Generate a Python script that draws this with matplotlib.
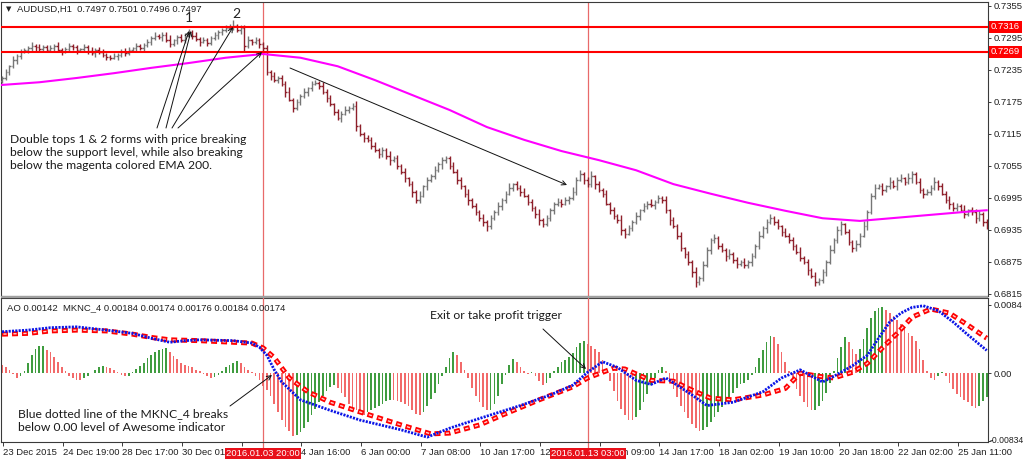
import numpy as np
import matplotlib
matplotlib.use("Agg")
import matplotlib.pyplot as plt
import matplotlib.transforms as mtransforms
from matplotlib.collections import LineCollection

plt.rcParams['lines.scale_dashes'] = False
plt.rcParams['font.family'] = ['Liberation Sans', 'DejaVu Sans']

# ---------------- data ----------------
symbol_header = "AUDUSD,H1  0.7497 0.7501 0.7496 0.7497"
ind_header = "AO 0.00142  MKNC_4 0.00184 0.00174 0.00176 0.00184 0.00174"

first_open_pips = 7214
close_pips = [
    7220, 7231, 7242, 7254, 7261, 7269, 7273, 7276, 7280, 7278,
    7274, 7278, 7273, 7276, 7280, 7273, 7269, 7274, 7280, 7278,
    7273, 7274, 7278, 7271, 7267, 7273, 7269, 7263, 7259, 7258,
    7261, 7263, 7269, 7267, 7273, 7276, 7280, 7276, 7282, 7288,
    7295, 7299, 7297, 7301, 7291, 7284, 7291, 7297, 7291, 7299,
    7306, 7299, 7293, 7288, 7291, 7286, 7295, 7301, 7306, 7310,
    7314, 7316, 7318, 7310, 7314, 7280, 7291, 7288, 7291, 7284,
    7276, 7231, 7224, 7216, 7220, 7209, 7194, 7179, 7164, 7175,
    7186, 7194, 7201, 7209, 7211, 7205, 7194, 7182, 7171, 7156,
    7145, 7153, 7160, 7164, 7168, 7130, 7115, 7107, 7104, 7092,
    7085, 7077, 7085, 7074, 7066, 7070, 7055, 7044, 7032, 7021,
    7006, 6991, 6999, 7017, 7029, 7036, 7047, 7059, 7066, 7070,
    7055, 7044, 7029, 7017, 7003, 6991, 6980, 6969, 6957, 6950,
    6942, 6957, 6969, 6980, 6991, 7003, 7014, 7021, 7014, 7006,
    6999, 6988, 6976, 6965, 6954, 6946, 6957, 6972, 6984, 6988,
    6984, 6991, 6995, 7006, 7029, 7040, 7029, 7021, 7036, 7021,
    7010, 7003, 6984, 6972, 6961, 6954, 6935, 6928, 6939, 6950,
    6961, 6972, 6980, 6984, 6982, 6988, 6995, 6991, 6972, 6954,
    6942, 6924, 6901, 6890, 6875, 6856, 6837, 6845, 6869, 6897,
    6916, 6920, 6905, 6897, 6886, 6890, 6879, 6871, 6875, 6869,
    6875, 6886, 6905, 6924, 6939, 6950, 6957, 6950, 6942, 6931,
    6924, 6916, 6905, 6894, 6882, 6875, 6860, 6849, 6837, 6841,
    6856, 6875, 6897, 6916, 6935, 6946, 6931, 6912, 6901, 6909,
    6924, 6942, 6969, 6999, 7014, 7017, 7010, 7017, 7025, 7017,
    7029, 7032, 7025, 7032, 7040, 7025, 7010, 7003, 7006, 7014,
    7025, 7017, 7003, 6991, 6984, 6976, 6980, 6972, 6965, 6972,
    6969, 6957, 6965, 6950, 6942]

wick_unit = 0.00015
wick_up = [
    3, 4, 2, 5, 3, 4, 2, 3, 5, 2, 4, 3, 2, 4, 3, 5, 2, 3, 4, 2,
    3, 2, 4, 3, 5, 2, 3, 4, 2, 3, 4, 2, 3, 5, 3, 2, 4, 3, 2, 4,
    3, 5, 2, 4, 3, 6, 2, 3, 4, 3, 4, 3, 5, 2, 4, 3, 2, 4, 3, 3,
    4, 3, 7, 2, 4, 3, 5, 2, 4, 3, 2, 4, 3, 5, 2, 4, 3, 6, 2, 4,
    3, 5, 2, 4, 3, 2, 5, 3, 4, 2, 4, 3, 5, 2, 4, 6, 3, 2, 4, 3,
    5, 2, 4, 3, 6, 2, 4, 3, 5, 2, 4, 3, 6, 2, 4, 3, 5, 2, 4, 3,
    2, 5, 3, 4, 2, 6, 3, 4, 2, 5, 3, 4, 2, 5, 3, 4, 6, 2, 4, 3,
    5, 2, 4, 3, 6, 2, 4, 3, 2, 5, 3, 4, 2, 6, 4, 5, 3, 4, 6, 2,
    4, 3, 5, 2, 4, 3, 6, 2, 4, 3, 5, 2, 4, 3, 6, 2, 4, 3, 5, 2,
    4, 3, 5, 2, 4, 3, 6, 2, 5, 4, 3, 5, 2, 4, 3, 6, 2, 4, 3, 5,
    2, 4, 3, 6, 2, 4, 5, 3, 4, 2, 5, 3, 4, 2, 6, 3, 4, 2, 5, 3,
    4, 2, 6, 3, 5, 4, 2, 4, 3, 5, 3, 6, 2, 4, 5, 3, 4, 2, 6, 3,
    4, 5, 2, 6, 4, 3, 5, 2, 4, 3, 6, 2, 4, 3, 5, 2, 4, 3, 6, 2,
    4, 3, 5, 2, 4]
wick_dn = [
    2, 3, 4, 2, 5, 3, 2, 4, 3, 5, 2, 4, 3, 2, 5, 3, 4, 2, 3, 4,
    5, 2, 3, 4, 2, 5, 3, 2, 4, 3, 2, 5, 3, 4, 2, 3, 5, 2, 4, 3,
    4, 2, 3, 5, 2, 4, 3, 5, 2, 3, 2, 4, 3, 5, 2, 4, 3, 2, 5, 3,
    3, 2, 4, 3, 5, 8, 2, 4, 3, 5, 6, 3, 5, 2, 4, 3, 6, 2, 5, 3,
    4, 2, 5, 3, 2, 4, 3, 5, 2, 4, 3, 5, 2, 4, 3, 6, 2, 5, 3, 4,
    2, 5, 3, 4, 6, 2, 4, 3, 5, 2, 6, 3, 4, 2, 5, 3, 4, 2, 6, 3,
    4, 2, 5, 3, 4, 6, 2, 4, 3, 5, 6, 3, 2, 4, 5, 3, 2, 4, 3, 5,
    2, 4, 3, 5, 6, 3, 2, 4, 5, 3, 4, 2, 5, 3, 4, 2, 5, 3, 4, 6,
    3, 4, 2, 5, 3, 4, 6, 5, 2, 4, 3, 5, 2, 4, 3, 5, 2, 4, 3, 6,
    2, 4, 3, 5, 4, 6, 6, 3, 4, 2, 5, 3, 4, 2, 6, 3, 4, 5, 2, 4,
    3, 5, 2, 4, 3, 6, 2, 4, 3, 5, 2, 4, 5, 3, 4, 2, 6, 3, 5, 4,
    3, 5, 2, 4, 3, 6, 2, 4, 5, 3, 4, 2, 5, 3, 4, 2, 6, 3, 4, 2,
    5, 3, 4, 2, 6, 3, 4, 5, 2, 4, 3, 5, 2, 4, 6, 3, 4, 2, 5, 3,
    4, 6, 3, 5, 4]

ema_idx = [0, 10, 20, 30, 40, 50, 60, 70, 80, 90, 100, 110, 120, 130,
           140, 150, 160, 170, 180, 190, 200, 210, 220, 230, 240, 250, 260, 264]
ema_pips = [7207, 7212, 7220, 7229, 7239, 7248, 7258, 7265, 7258, 7242, 7216,
            7188, 7160, 7128, 7104, 7083, 7066, 7047, 7021, 7003, 6986, 6971,
            6957, 6952, 6958, 6964, 6970, 6972]

resistance = 0.7316
support = 0.7269

ao_e4 = [
    10, 7, 4, -1, -6, -3, 2, 12, 22, 30,
    33, 34, 29, 26, 20, 14, 8, 2, -3, -6,
    -8, -9, -6, -4, 0, 4, 7, 9, 8, 6,
    4, 1, -2, -4, -3, 1, 5, 9, 13, 18,
    22, 26, 29, 30, 31, 26, 21, 17, 12, 10,
    9, 7, 4, 2, -1, -3, -6, -5, -2, 3,
    7, 10, 13, 15, 12, 8, 4, 1, -4, -9,
    -16, -21, -28, -38, -48, -58, -66, -72, -77, -76,
    -73, -68, -60, -52, -44, -36, -28, -22, -17, -15,
    -18, -24, -30, -38, -44, -46, -50, -52, -48, -46,
    -43, -40, -38, -35, -33, -33, -34, -36, -38, -41,
    -45, -50, -52, -48, -40, -32, -24, -14, -4, 8,
    18, 26, 22, 14, 4, -6, -18, -28, -36, -42,
    -46, -45, -38, -28, -14, -2, 10, 17, 14, 8,
    2, -1, 1, -3, -10, -15, -12, -6, 2, 8,
    14, 16, 20, 25, 32, 37, 39, 36, 34, 30,
    26, 16, 4, -10, -22, -34, -44, -52, -58, -58,
    -54, -46, -36, -26, -15, -6, 4, 7, 3, -8,
    -20, -30, -40, -48, -56, -63, -68, -71, -70, -66,
    -60, -54, -48, -42, -36, -30, -24, -18, -14, -12,
    -8, -2, 8, 18, 28, 38, 46, 44, 36, 26,
    14, 2, -10, -20, -28, -36, -42, -46, -45, -40,
    -34, -24, -12, 2, 18, 32, 44, 38, 30, 24,
    30, 42, 56, 68, 76, 80, 81, 78, 74, 70,
    66, 60, 55, 50, 46, 40, 30, 16, 2, -6,
    -8, -3, 1, -4, -12, -20, -26, -30, -33, -36,
    -40, -43, -40, -34, -30]

blue_idx = [0, 7, 13, 20, 28, 35, 40, 45, 49, 53, 62, 67, 69, 71, 73, 75, 80, 88,
            96, 107, 114, 120, 128, 139, 147, 153, 157, 161, 165, 170, 174, 178,
            185, 189, 196, 204, 209, 214, 220, 223, 228, 232, 235, 238, 241, 244,
            247, 251, 255, 259, 264]
blue_e4 = [51, 53, 56, 57, 53, 49, 43, 38, 40, 41, 40, 37, 32, 22, 4, -11, -33, -46,
           -58, -70, -79, -68, -56, -40, -27, -15, 1, 14, 7, -9, -14, -6,
           -27, -40, -36, -23, -6, 4, -11, -4, 9, 22, 43, 63, 74, 81,
           83, 77, 63, 47, 28]
red_idx = [0, 7, 13, 20, 28, 35, 40, 45, 53, 62, 67, 70, 73, 77, 82, 88, 96, 107,
           115, 120, 128, 134, 144, 153, 157, 161, 164, 167, 170, 174, 180, 185,
           190, 196, 204, 210, 214, 219, 223, 228, 232, 236, 240, 244, 249, 254,
           259, 264]
red_e4 = [48, 49, 52, 53, 52, 48, 44, 41, 40, 38, 37, 31, 19, -6, -23, -36, -48, -64,
          -75, -74, -64, -52, -33, -17, -6, 1, 6, 5, -1, -9, -10, -21,
          -31, -33, -27, -19, 0, -4, -6, 1, 12, 31, 49, 69, 79, 74,
          59, 43]

price_ticks = [0.7355, 0.7295, 0.7235, 0.7175, 0.7115, 0.7055, 0.6995, 0.6935, 0.6875, 0.6815]
ao_ticks = [0.0084, 0.0, -0.00834]
ao_tick_labels = ["0.0084", "0.00", "-0.00834"]
time_labels = ["23 Dec 2015", "24 Dec 19:00", "28 Dec 17:00", "30 Dec 01:00", "",
               "4 Jan 16:00", "6 Jan 00:00", "7 Jan 08:00", "10 Jan 17:00", "12 Jan 01:00",
               "13 Jan 09:00", "14 Jan 17:00", "18 Jan 02:00", "19 Jan 10:00", "20 Jan 18:00",
               "22 Jan 02:00", "25 Jan 11:00"]
bars_per_label = 16
vline_bars = [70, 157]
vline_labels = ["2016.01.03 20:00", "2016.01.13 03:00"]

# ---------------- derived ----------------
c = np.array(close_pips) / 10000.0
N = len(c)
o = np.empty(N)
o[0] = first_open_pips / 10000.0
o[1:] = c[:-1]
hi = np.maximum(o, c) + np.array(wick_up) * wick_unit
lo = np.minimum(o, c) - np.array(wick_dn) * wick_unit
ema = np.array(ema_pips) / 10000.0
ao = np.array(ao_e4) * 1e-4
blue = np.array(blue_e4) * 1e-4
red = np.array(red_e4) * 1e-4

# ---------------- figure ----------------
W, H = 1024, 465
fig = plt.figure(figsize=(W / 100, H / 100), dpi=100)
fig.patch.set_facecolor('white')


def fr(x0, y0, x1, y1):
    return [x0 / W, 1 - y1 / H, (x1 - x0) / W, (y1 - y0) / H]


ax1 = fig.add_axes(fr(1, 2, 988, 296))
ax2 = fig.add_axes(fr(1, 298, 988, 442))
XL = (-0.27, 264.35)
lab_font = 6.8
frame_col = '#3a3a3a'

for ax in (ax1, ax2):
    ax.set_xlim(*XL)
    for s in ax.spines.values():
        s.set_color(frame_col)
        s.set_linewidth(0.8)
    ax.yaxis.tick_right()
    ax.tick_params(axis='y', direction='out', length=2.5, width=0.7, colors=frame_col,
                   labelsize=lab_font, pad=1.5, labelcolor='#202020')

# main panel
ax1.set_ylim(0.68112, 0.73625)
ax1.set_yticks(price_ticks)
ax1.set_yticklabels(["%.4f" % t for t in price_ticks])
ax1.set_xticks([])

up_col, dn_col = '#767676', '#8e1f2a'
segs, cols = [], []
for i in range(N):
    col = up_col if c[i] >= o[i] else dn_col
    segs.append([(i, lo[i]), (i, hi[i])])
    segs.append([(i - 0.42, o[i]), (i, o[i])])
    segs.append([(i, c[i]), (i + 0.42, c[i])])
    cols += [col] * 3
ax1.add_collection(LineCollection(segs, colors=cols, linewidths=1.0, zorder=3))

ax1.plot(ema_idx, ema, color='#ff00ff', lw=1.5, zorder=4)
for lvl in (resistance, support):
    ax1.axhline(lvl, color='#ff0000', lw=1.5, zorder=5)
    ax1.text(1.0 + 3 / 987, lvl, "%.4f" % lvl,
             transform=mtransforms.blended_transform_factory(ax1.transAxes, ax1.transData),
             ha='left', va='center', fontsize=lab_font, color='white', zorder=6, clip_on=False,
             bbox=dict(boxstyle='square,pad=0.18', fc='#ff0000', ec='none'))

# indicator panel
ax2.set_ylim(-0.0085, 0.00926)
ax2.set_yticks(ao_ticks)
ax2.set_yticklabels([ao_tick_labels[0], ao_tick_labels[1], ""])
ytr = mtransforms.blended_transform_factory(ax2.transAxes, ax2.transData)
ax2.text(1.0 + 1.2 / 987, ao_ticks[2], ao_tick_labels[2], transform=ytr, ha='left', va='center',
         fontsize=6.2, color='#202020', clip_on=False)
ao_cols = ['#3f9c3f' if (i > 0 and ao[i] > ao[i - 1]) else '#f26a6a' for i in range(N)]
ax2.bar(np.arange(N), ao, width=0.45, color=ao_cols, zorder=2)
ax2.plot(red_idx, red, color='#ff0000', lw=3.6, linestyle=(0, (4.3, 2.9)),
         dash_capstyle='butt', zorder=4)
ax2.plot(red_idx, red, color='#ffd0d0', lw=1.0, linestyle=(6.2, (2.3, 4.9)),
         dash_capstyle='butt', zorder=5)
ax2.plot(blue_idx, blue, color='#0a14e6', lw=2.0, linestyle=(0, (1.5, 0.9)),
         dash_capstyle='butt', zorder=6)

tick_pos = [0.27 + bars_per_label * k for k in range(len(time_labels))]
ax2.set_xticks(tick_pos)
ax2.set_xticklabels(time_labels)
ax2.tick_params(axis='x', direction='out', length=3, width=0.7, colors=frame_col,
                labelsize=lab_font, pad=1, labelcolor='#202020')
for t in ax2.get_xticklabels():
    t.set_ha('left')

# vertical event lines
for b, lab in zip(vline_bars, vline_labels):
    ax1.axvline(b, color='#e86a6a', lw=0.9, zorder=2)
    ax2.axvline(b, color='#e86a6a', lw=0.9, zorder=3)
    tr = mtransforms.blended_transform_factory(ax2.transData, ax2.transAxes)
    ax2.plot([b, b], [0, -0.06], transform=tr, color='#e86a6a', lw=0.9, clip_on=False)
    ax2.text(b, -0.078, lab, transform=tr, ha='center', va='center', fontsize=lab_font,
             color='white', zorder=10, clip_on=False,
             bbox=dict(boxstyle='square,pad=0.12', fc='#e8101a', ec='none'))

# ---------------- overlay (texts / arrows in pixel space) ----------------
ov = fig.add_axes([0, 0, 1, 1], zorder=20)
ov.set_xlim(0, W)
ov.set_ylim(H, 0)
ov.axis('off')
ov.patch.set_alpha(0)

ov.plot([1, 988], [297, 297], color='#a0a0a0', lw=1.6, solid_capstyle='butt')
ov.text(6, 9, "\u25bc", fontsize=5, va='center', ha='left', family=['DejaVu Sans'], color='#202020')
ov.text(17, 9, symbol_header, fontsize=lab_font, va='center', ha='left', color='#202020')
ov.text(7, 308, ind_header, fontsize=lab_font, va='center', ha='left', color='#202020')

note_font = ['Lato', 'DejaVu Sans']
nf = 8.7
ov.text(189, 18, "1", fontsize=10, family=note_font, ha='center', va='center', color='#222222')
ov.text(236, 14, "2", fontsize=10, family=note_font, ha='center', va='center', color='#222222')
for k, line in enumerate(["Double tops 1 & 2 forms with price breaking",
                          "below the support level, while also breaking",
                          "below the magenta colored EMA 200."]):
    ov.text(10, 139 + 13.4 * k, line, fontsize=nf, family=note_font, ha='left', va='center', color='#1a1a1a')
for k, line in enumerate(["Blue dotted line of the MKNC_4 breaks",
                          "below 0.00 level of Awesome indicator"]):
    ov.text(18, 414 + 13.4 * k, line, fontsize=nf, family=note_font, ha='left', va='center', color='#1a1a1a')
ov.text(430, 315, "Exit or take profit trigger", fontsize=nf, family=note_font, ha='left', va='center', color='#1a1a1a')

arrow_kw = dict(arrowstyle='->', lw=0.7, color='#111111', shrinkA=0, shrinkB=0, mutation_scale=8)
for (x0, y0, x1, y1) in [(157, 128, 189, 31), (166, 128, 191, 31), (172, 128, 233, 27),
                         (178, 128, 262, 52), (290, 68, 567, 185),
                         (543, 329, 586, 369), (230, 406, 272, 375)]:
    ov.annotate('', xy=(x1, y1), xytext=(x0, y0), arrowprops=arrow_kw)

fig.savefig("out.png", dpi=100, facecolor='white')
